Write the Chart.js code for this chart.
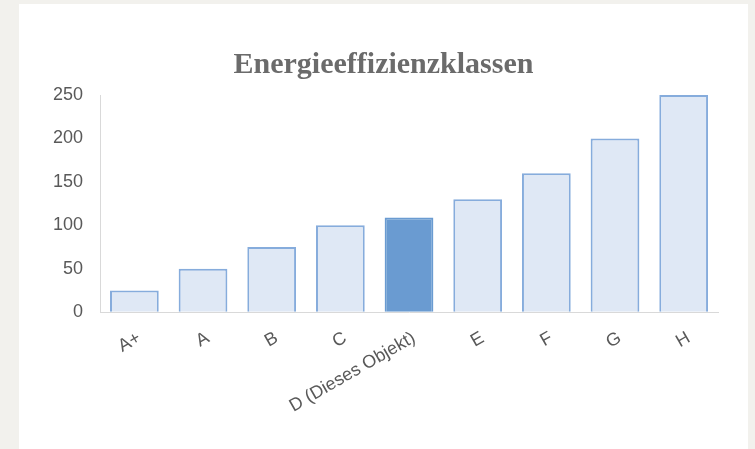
<!DOCTYPE html>
<html lang="de">
	<head>
		<meta charset="UTF-8" />
		<title>Energieeffizienzklassen</title>
		<style>
			html, body { margin: 0; padding: 0; background: #f2f1ed; }
			.panel {
				position: absolute;
				left: 19px;
				top: 4px;
				width: 729px;
				height: 445px;
				background: #fff;
			}
		</style>
	</head>
	<body>
		<div class="panel"><canvas id="bars" width="729" height="445"></canvas></div>
		<script src="https://cdn.jsdelivr.net/npm/chart.js"></script>
		<script>
			const categories = ["A+", "A", "B", "C", "D (Dieses Objekt)", "E", "F", "G", "H"];
			const values = [25, 50, 75, 100, 109, 130, 160, 200, 250];
			const yTicks = [0, 50, 100, 150, 200, 250];
			const highlightIndex = 4; // das Objekt selbst

			const fills = categories.map((c, i) => (i === highlightIndex ? "#6a9bd1" : "#dfe8f5"));
			const borders = categories.map((c, i) => (i === highlightIndex ? "#6a9bd1" : "#86acdc"));

			const ctx = document.getElementById("bars").getContext("2d");
			new Chart(ctx, {
				type: "bar",
				data: {
					labels: categories,
					datasets: [
						{
							data: values,
							backgroundColor: fills,
							borderColor: borders,
							borderWidth: 2,
							barPercentage: 0.71,
							categoryPercentage: 1
						}
					]
				},
				options: {
					responsive: false,
					animation: false,
					// gleiche Abstände links/rechts, damit der Titel mittig sitzt
					layout: { padding: { left: 17, right: 17, top: 0, bottom: 17 } },
					plugins: {
						legend: { display: false },
						tooltip: { enabled: false },
						title: {
							display: true,
							text: "Energieeffizienzklassen",
							color: "#6b6b6b",
							font: { family: "'Liberation Serif', serif", size: 30, weight: "bold" },
							padding: { top: 43, bottom: 12 }
						}
					},
					scales: {
						x: {
							grid: { display: true, drawOnChartArea: false, drawTicks: false, color: "#d9d9d9" },
							border: { color: "#d9d9d9", width: 1 },
							ticks: {
								color: "#595959",
								font: { family: "'Liberation Sans', Arial, sans-serif", size: 18 },
								minRotation: 30,
								maxRotation: 30,
								padding: 15,
								labelOffset: 5
							}
						},
						y: {
							min: 0,
							max: 250,
							afterBuildTicks: (axis) => {
								axis.ticks = yTicks.map((v) => ({ value: v }));
							},
							grid: { display: true, drawOnChartArea: false, drawTicks: false, color: "#d9d9d9" },
							border: { color: "#d9d9d9", width: 1 },
							ticks: {
								color: "#595959",
								font: { family: "'Liberation Sans', Arial, sans-serif", size: 18 },
								padding: 17
							}
						},
						spacer: {
							type: "linear",
							position: "right",
							grid: { display: false },
							border: { display: false },
							ticks: { display: false },
							afterFit: (axis) => {
								axis.width = 13;
							}
						}
					}
				}
			});
		</script>
	</body>
</html>
